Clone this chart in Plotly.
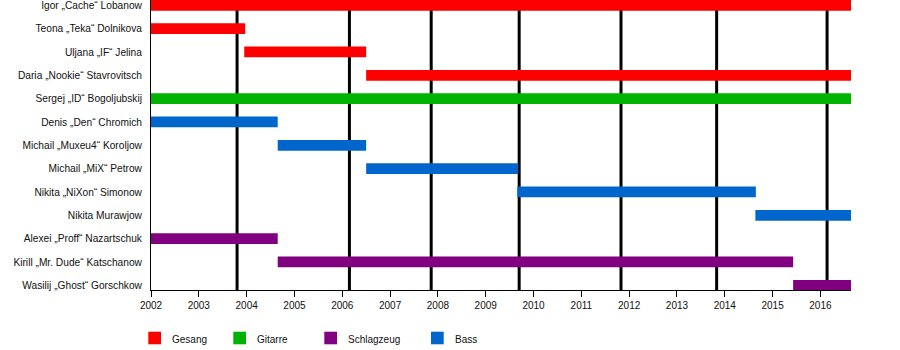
import plotly.graph_objects as go

# Band members, top to bottom
members = [
    "Igor „Cache“ Lobanow",
    "Teona „Teka“ Dolnikova",
    "Uljana „IF“ Jelina",
    "Daria „Nookie“ Stavrovitsch",
    "Sergej „ID“ Bogoljubskij",
    "Denis „Den“ Chromich",
    "Michail „Muxeu4“ Koroljow",
    "Michail „MiX“ Petrow",
    "Nikita „NiXon“ Simonow",
    "Nikita Murawjow",
    "Alexei „Proff“ Nazartschuk",
    "Kirill „Mr. Dude“ Katschanow",
    "Wasilij „Ghost“ Gorschkow",
]

# One entry per stint in the band (decimal years)
stint_member = [
    "Igor „Cache“ Lobanow",
    "Teona „Teka“ Dolnikova",
    "Uljana „IF“ Jelina",
    "Daria „Nookie“ Stavrovitsch",
    "Sergej „ID“ Bogoljubskij",
    "Denis „Den“ Chromich",
    "Michail „Muxeu4“ Koroljow",
    "Michail „MiX“ Petrow",
    "Nikita „NiXon“ Simonow",
    "Nikita Murawjow",
    "Alexei „Proff“ Nazartschuk",
    "Kirill „Mr. Dude“ Katschanow",
    "Wasilij „Ghost“ Gorschkow",
]
stint_role = [
    "Gesang", "Gesang", "Gesang", "Gesang",
    "Gitarre",
    "Bass", "Bass", "Bass", "Bass", "Bass",
    "Schlagzeug", "Schlagzeug", "Schlagzeug",
]
stint_start = [2002.0, 2002.0, 2003.95, 2006.5, 2002.0, 2002.0, 2004.65,
               2006.5, 2009.66, 2014.64, 2002.0, 2004.65, 2015.43]
stint_end = [2016.64, 2003.97, 2006.5, 2016.64, 2016.64, 2004.65, 2006.5,
             2009.68, 2014.65, 2016.64, 2004.65, 2015.43, 2016.64]

# Album release dates (vertical markers)
releases = [2003.80, 2006.15, 2007.86, 2009.70, 2011.83, 2013.83, 2016.14]

roles = ["Gesang", "Gitarre", "Schlagzeug", "Bass"]
role_colors = {
    "Gesang": "#ff0000",
    "Gitarre": "#00b300",
    "Schlagzeug": "#800080",
    "Bass": "#0066cc",
}

year_ticks = list(range(2002, 2017))
x_min, x_max = 2002.0, 2016.64

W, H = 900, 350
ML, MR, MT, MB = 151, 49, 0, 60
PW, PH = W - ML - MR, H - MT - MB

FONT = "Liberation Sans, Arial, sans-serif"

fig = go.Figure()

for role in roles:
    idx = [i for i, r in enumerate(stint_role) if r == role]
    fig.add_trace(go.Bar(
        orientation="h",
        y=[stint_member[i] for i in idx],
        base=[stint_start[i] for i in idx],
        x=[stint_end[i] - stint_start[i] for i in idx],
        marker=dict(color=role_colors[role], line=dict(width=0)),
        width=0.46,
        name=role,
        showlegend=False,
        hoverinfo="skip",
    ))

# Release markers behind the bars
for d in releases:
    fig.add_shape(type="line", xref="x", yref="paper", x0=d, x1=d, y0=0, y1=1,
                  line=dict(color="black", width=3), layer="below")


def px_x(px):
    return (px - ML) / PW


def px_y(py):
    return (H - MB - py) / PH


# Hand-placed legend below the axis
legend_x = [148.3, 233.3, 324.3, 431.0]
for role, lx in zip(roles, legend_x):
    fig.add_shape(type="rect", xref="paper", yref="paper",
                  x0=px_x(lx), x1=px_x(lx + 12.7),
                  y0=px_y(344.3), y1=px_y(331.7),
                  fillcolor=role_colors[role], line=dict(width=0))
    fig.add_annotation(xref="paper", yref="paper", x=px_x(lx + 21.5), y=px_y(339.5),
                       text=role, showarrow=False, xanchor="left", yanchor="middle",
                       font=dict(family=FONT, size=10, color="#111"))

# Row index range: row 0 centred 5.33 px below the top, 23.33 px per row
row_px = 23.33
top_off = 5.33
y_top = -top_off / row_px
y_bot = (PH - top_off) / row_px

fig.update_layout(
    width=W, height=H,
    margin=dict(l=ML, r=MR, t=MT, b=MB, pad=0),
    paper_bgcolor="white", plot_bgcolor="white",
    barmode="overlay",
    font=dict(family=FONT, size=10, color="#111"),
    xaxis=dict(
        range=[x_min, x_max], tickvals=year_ticks,
        ticktext=[str(y) for y in year_ticks],
        showgrid=False, zeroline=False,
        showline=True, linecolor="black", linewidth=1,
        ticks="outside", ticklen=6, tickcolor="black", tickwidth=1,
        tickfont=dict(family=FONT, size=10, color="#111"),
    ),
    yaxis=dict(
        type="category", categoryorder="array", categoryarray=members,
        range=[y_bot, y_top],
        showgrid=False, zeroline=False,
        showline=True, linecolor="black", linewidth=1,
        ticks="", ticklabelstandoff=6,
        tickfont=dict(family=FONT, size=10.2, color="#111"),
    ),
)

fig.write_html("out.html")
